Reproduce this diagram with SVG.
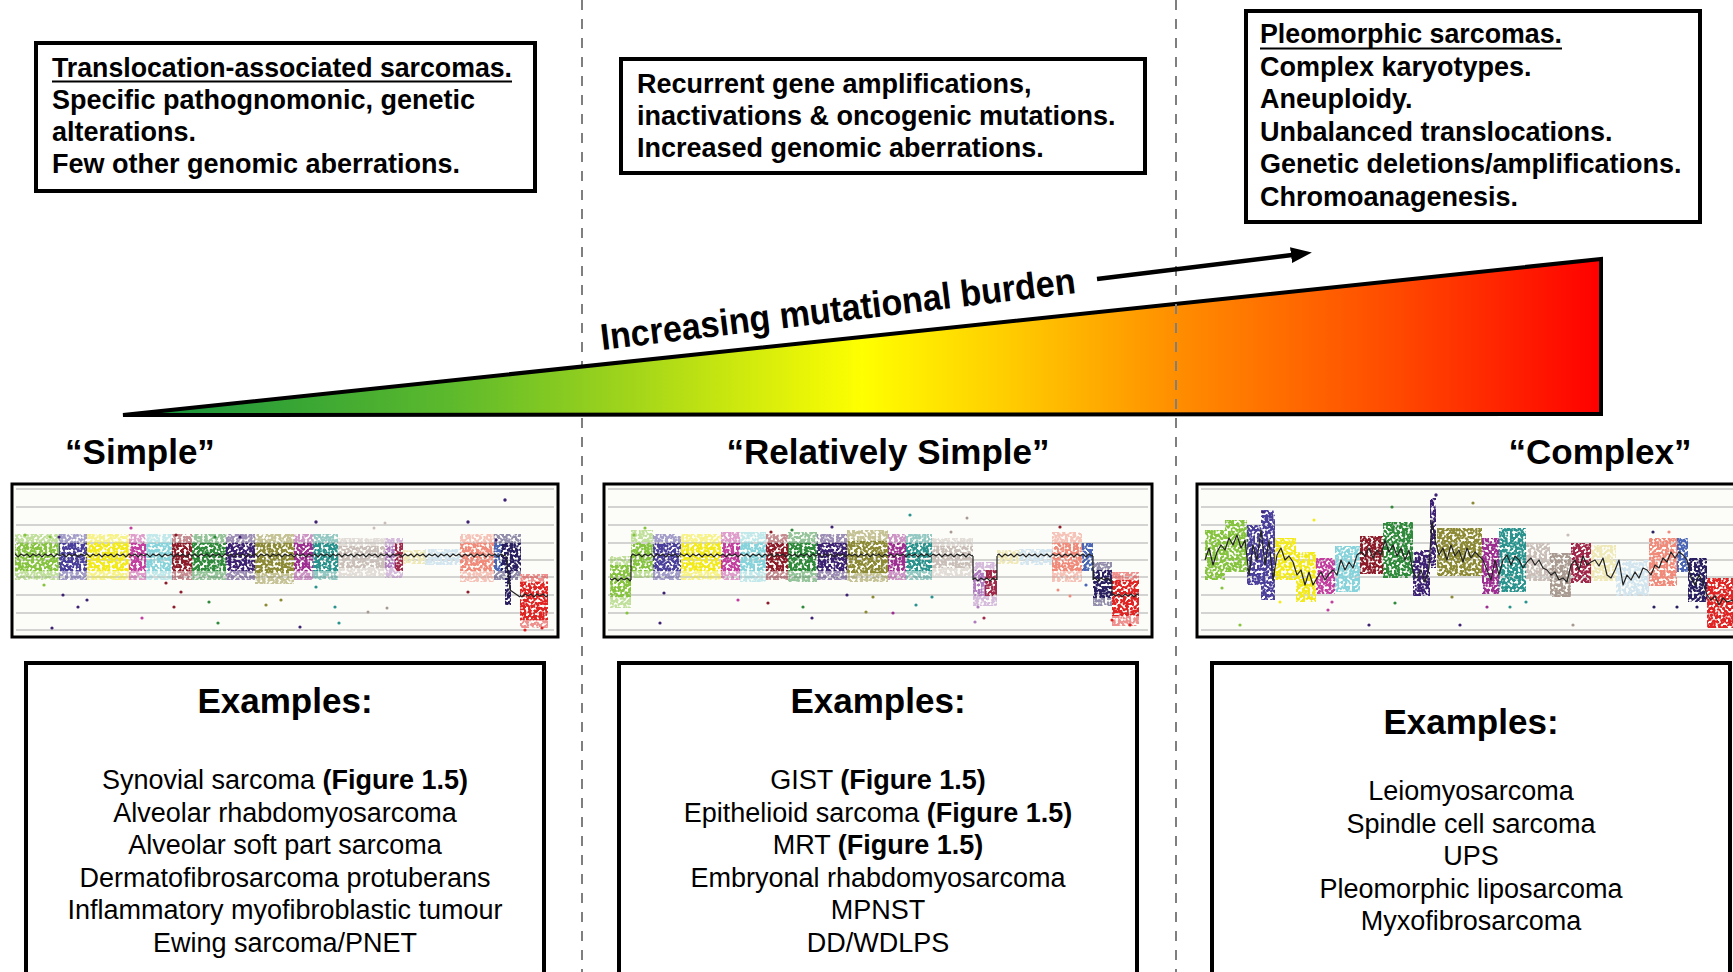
<svg xmlns="http://www.w3.org/2000/svg" width="1733" height="972" viewBox="0 0 1733 972">
<style>
.b27{font-family:"Liberation Sans",Arial,sans-serif;font-weight:bold;font-size:27px;fill:#000}
.r27{font-family:"Liberation Sans",Arial,sans-serif;font-size:27px;fill:#000;text-anchor:middle}
.b35{font-family:"Liberation Sans",Arial,sans-serif;font-weight:bold;font-size:35px;fill:#000;text-anchor:middle}
.box{fill:#fff;stroke:#000;stroke-width:4}
.frame{fill:#fcfcf8;stroke:#000;stroke-width:3}
.grid{stroke:#c6c6c6;stroke-width:1.5}
.dash{stroke:#7f7f7f;stroke-width:2;stroke-dasharray:10 9}
.ul{stroke:#000;stroke-width:2}
.med{fill:none;stroke:#222;stroke-width:1.2;stroke-linejoin:round}
</style>
<defs>
<linearGradient id="burden" gradientUnits="userSpaceOnUse" x1="123" y1="0" x2="1601" y2="0">
<stop offset="0" stop-color="#0f8f3e"/>
<stop offset="0.22" stop-color="#5cb92c"/>
<stop offset="0.34" stop-color="#9fd41b"/>
<stop offset="0.5" stop-color="#ffff00"/>
<stop offset="0.6" stop-color="#ffcc00"/>
<stop offset="0.72" stop-color="#ff8a00"/>
<stop offset="0.86" stop-color="#ff4a00"/>
<stop offset="1" stop-color="#ff0000"/>
</linearGradient>
<filter id="speck" color-interpolation-filters="sRGB">
<feTurbulence type="fractalNoise" baseFrequency="0.38" numOctaves="1" seed="4" result="n"/>
<feColorMatrix in="n" type="matrix" values="0 0 0 0 0  0 0 0 0 0  0 0 0 0 0  8 0 0 0 -3.1" result="m"/>
<feComposite in="SourceGraphic" in2="m" operator="in"/>
</filter>
<pattern id="wave" patternUnits="userSpaceOnUse" width="12" height="8">
<path d="M0,4 l3,-2 l3,3 l3,-3 l3,2" fill="none" stroke="#222" stroke-width="1.2"/>
</pattern>
<marker id="ah" markerUnits="userSpaceOnUse" markerWidth="21" markerHeight="16" refX="1" refY="8" orient="auto">
<path d="M0,0 L21,8 L0,16 z" fill="#000"/>
</marker>
</defs>

<rect width="1733" height="972" fill="#fff"/>

<line id="divider-1" class="dash" x1="582" y1="0" x2="582" y2="972"/>

<g id="burden-gradient">
<polygon points="123,415 1601,259 1601,414" fill="url(#burden)" stroke="#000" stroke-width="4" stroke-linejoin="miter"/>
<text class="b27" x="602" y="350" textLength="478" lengthAdjust="spacingAndGlyphs" transform="rotate(-6.85 602 350)" style="font-size:37px">Increasing mutational burden</text>
</g>

<line id="divider-2" class="dash" x1="1176" y1="0" x2="1176" y2="972"/>

<g id="connectors">
<line x1="1097" y1="279" x2="1292" y2="255" stroke="#000" stroke-width="4.5" marker-end="url(#ah)"/>
</g>

<g id="node-translocation">
<rect class="box" x="36" y="43" width="499" height="148"/>
<text class="b27" x="52" y="77" textLength="460" lengthAdjust="spacingAndGlyphs">Translocation-associated sarcomas.</text>
<line class="ul" x1="52" y1="81.5" x2="512" y2="81.5"/>
<text class="b27" x="52" y="109">Specific pathognomonic, genetic</text>
<text class="b27" x="52" y="141">alterations.</text>
<text class="b27" x="52" y="173">Few other genomic aberrations.</text>
</g>

<g id="node-recurrent">
<rect class="box" x="621" y="59" width="524" height="114"/>
<text class="b27" x="637" y="93">Recurrent gene amplifications,</text>
<text class="b27" x="637" y="125">inactivations &amp; oncogenic mutations.</text>
<text class="b27" x="637" y="157">Increased genomic aberrations.</text>
</g>

<g id="node-pleomorphic">
<rect class="box" x="1246" y="11" width="454" height="211"/>
<text class="b27" x="1260" y="43" textLength="302" lengthAdjust="spacingAndGlyphs">Pleomorphic sarcomas.</text>
<line class="ul" x1="1260" y1="48.5" x2="1562" y2="48.5"/>
<text class="b27" x="1260" y="75.5">Complex karyotypes.</text>
<text class="b27" x="1260" y="108">Aneuploidy.</text>
<text class="b27" x="1260" y="140.5">Unbalanced translocations.</text>
<text class="b27" x="1260" y="173">Genetic deletions/amplifications.</text>
<text class="b27" x="1260" y="205.5">Chromoanagenesis.</text>
</g>

<g id="label-simple"><text class="b35" x="140" y="464">“Simple”</text></g>
<g id="label-relatively-simple"><text class="b35" x="888" y="464">“Relatively Simple”</text></g>
<g id="label-complex"><text class="b35" x="1600" y="464">“Complex”</text></g>

<!-- Chart 1 -->
<g id="chart-simple">
<rect class="frame" x="12" y="484" width="546" height="153"/>
<g class="grid">
<line x1="16" y1="489" x2="554" y2="489"/><line x1="16" y1="507" x2="554" y2="507"/><line x1="16" y1="525" x2="554" y2="525"/><line x1="16" y1="543" x2="554" y2="543"/><line x1="16" y1="560" x2="554" y2="560"/><line x1="16" y1="577" x2="554" y2="577"/><line x1="16" y1="595" x2="554" y2="595"/><line x1="16" y1="613" x2="554" y2="613"/><line x1="16" y1="630" x2="554" y2="630"/>
</g>
<g filter="url(#speck)">
<g opacity="0.5">
<rect x="15" y="534" width="44" height="46" fill="#86c440"/><rect x="59" y="534" width="28" height="46" fill="#4a3f9a"/><rect x="87" y="534" width="42" height="46" fill="#f2ea1a"/><rect x="129" y="534" width="17" height="46" fill="#c23fa0"/><rect x="146" y="534" width="26" height="46" fill="#86d3dc"/><rect x="172" y="534" width="20" height="46" fill="#8c1c2a"/><rect x="192" y="534" width="34" height="46" fill="#2f8a3c"/><rect x="226" y="534" width="29" height="46" fill="#3d2173"/><rect x="255" y="534" width="39" height="50" fill="#8d8a35"/><rect x="294" y="534" width="19" height="46" fill="#9e2f92"/><rect x="313" y="534" width="25" height="46" fill="#2a938e"/><rect x="338" y="538" width="47" height="38" fill="#c9beb8"/><rect x="385" y="538" width="18" height="40" fill="#b07cc0"/><rect x="460" y="534" width="34" height="48" fill="#f08a7a"/><rect x="494" y="534" width="27" height="46" fill="#2a1f60"/><rect x="520" y="574" width="28" height="54" fill="#e02424"/>
</g>
<rect x="15" y="543" width="44" height="28" fill="#86c440"/><rect x="59" y="543" width="28" height="28" fill="#4a3f9a"/><rect x="87" y="543" width="42" height="28" fill="#f2ea1a"/><rect x="129" y="543" width="17" height="28" fill="#c23fa0"/><rect x="146" y="543" width="26" height="28" fill="#86d3dc"/><rect x="172" y="543" width="20" height="28" fill="#8c1c2a"/><rect x="192" y="543" width="34" height="28" fill="#2f8a3c"/><rect x="226" y="543" width="29" height="28" fill="#3d2173"/><rect x="255" y="543" width="39" height="30" fill="#8d8a35"/><rect x="294" y="543" width="19" height="28" fill="#9e2f92"/><rect x="313" y="543" width="25" height="28" fill="#2a938e"/><rect x="338" y="546" width="47" height="22" fill="#c9beb8"/><rect x="385" y="546" width="10" height="22" fill="#b07cc0"/><rect x="395" y="543" width="8" height="28" fill="#a0284a"/><rect x="403" y="550" width="22" height="14" fill="#efe9b8"/><rect x="425" y="549" width="35" height="16" fill="#d3e6ef"/><rect x="460" y="543" width="34" height="28" fill="#f08a7a"/><rect x="494" y="543" width="7" height="28" fill="#4a66b5"/><rect x="501" y="543" width="20" height="28" fill="#2a1f60"/><rect x="505" y="560" width="6" height="45" fill="#2a1f60"/><rect x="520" y="582" width="28" height="38" fill="#e02424"/>
</g>
<rect x="15" y="552" width="491" height="8" fill="url(#wave)"/>
<rect x="520" y="592" width="28" height="8" fill="url(#wave)"/>
<path class="med" d="M506,556 L510,590 L520,597"/>
<g fill="#3d2173">
<circle cx="505" cy="500" r="1.7"/><circle cx="316" cy="522" r="1.7"/><circle cx="468" cy="522" r="1.7"/><circle cx="385" cy="523" r="1.5" fill="#c9beb8"/><circle cx="25" cy="535" r="1.6" fill="#86c440"/><circle cx="50" cy="537" r="1.6" fill="#86c440"/><circle cx="59" cy="537" r="1.6"/><circle cx="176" cy="535" r="1.6" fill="#8c1c2a"/><circle cx="215" cy="537" r="1.6" fill="#2f8a3c"/><circle cx="240" cy="537" r="1.6"/><circle cx="131" cy="528" r="1.6" fill="#c23fa0"/><circle cx="374" cy="528" r="1.5" fill="#c9beb8"/><circle cx="496" cy="540" r="1.6"/><circle cx="44" cy="585" r="1.6" fill="#86c440"/><circle cx="63" cy="595" r="1.6"/><circle cx="78" cy="607" r="1.6"/><circle cx="87" cy="600" r="1.6"/><circle cx="142" cy="618" r="1.6" fill="#c23fa0"/><circle cx="174" cy="607" r="1.6" fill="#8c1c2a"/><circle cx="181" cy="592" r="1.6" fill="#8c1c2a"/><circle cx="209" cy="602" r="1.6" fill="#2f8a3c"/><circle cx="218" cy="623" r="1.6" fill="#2f8a3c"/><circle cx="266" cy="605" r="1.6" fill="#8d8a35"/><circle cx="281" cy="600" r="1.6" fill="#8d8a35"/><circle cx="300" cy="627" r="1.6"/><circle cx="335" cy="607" r="1.6" fill="#2a938e"/><circle cx="339" cy="623" r="1.6" fill="#2a938e"/><circle cx="368" cy="612" r="1.5" fill="#a89a90"/><circle cx="387" cy="608" r="1.5" fill="#a89a90"/><circle cx="468" cy="592" r="1.6" fill="#8c1c2a"/><circle cx="52" cy="628" r="1.6"/><circle cx="166" cy="583" r="1.6" fill="#8c1c2a"/><circle cx="316" cy="587" r="1.6" fill="#2a938e"/><circle cx="525" cy="630" r="1.6" fill="#e02424"/><circle cx="542" cy="628" r="1.6" fill="#e02424"/>
</g>
</g>

<!-- Chart 2 -->
<g id="chart-relatively-simple">
<rect class="frame" x="604" y="484" width="548" height="153"/>
<g class="grid">
<line x1="608" y1="489" x2="1148" y2="489"/><line x1="608" y1="507" x2="1148" y2="507"/><line x1="608" y1="525" x2="1148" y2="525"/><line x1="608" y1="543" x2="1148" y2="543"/><line x1="608" y1="560" x2="1148" y2="560"/><line x1="608" y1="577" x2="1148" y2="577"/><line x1="608" y1="595" x2="1148" y2="595"/><line x1="608" y1="613" x2="1148" y2="613"/><line x1="608" y1="630" x2="1148" y2="630"/>
</g>
<g filter="url(#speck)">
<g opacity="0.5">
<rect x="610" y="556" width="21" height="52" fill="#86c440"/><rect x="631" y="530" width="22" height="48" fill="#86c440"/><rect x="653" y="534" width="28" height="46" fill="#4a3f9a"/><rect x="681" y="534" width="40" height="46" fill="#f2ea1a"/><rect x="721" y="532" width="19" height="48" fill="#c23fa0"/><rect x="740" y="532" width="26" height="50" fill="#86d3dc"/><rect x="766" y="534" width="22" height="46" fill="#8c1c2a"/><rect x="788" y="532" width="29" height="50" fill="#2f8a3c"/><rect x="817" y="534" width="30" height="46" fill="#3d2173"/><rect x="847" y="530" width="41" height="52" fill="#8d8a35"/><rect x="888" y="534" width="18" height="46" fill="#9e2f92"/><rect x="906" y="534" width="26" height="46" fill="#2a938e"/><rect x="932" y="538" width="41" height="38" fill="#c9beb8"/><rect x="973" y="562" width="24" height="44" fill="#b07cc0"/><rect x="1052" y="532" width="30" height="50" fill="#f08a7a"/><rect x="1093" y="562" width="19" height="44" fill="#2a1f60"/><rect x="1112" y="572" width="27" height="54" fill="#e02424"/>
</g>
<rect x="610" y="565" width="21" height="32" fill="#86c440"/><rect x="631" y="543" width="22" height="28" fill="#86c440"/><rect x="653" y="543" width="28" height="28" fill="#4a3f9a"/><rect x="681" y="543" width="40" height="28" fill="#f2ea1a"/><rect x="721" y="543" width="19" height="28" fill="#c23fa0"/><rect x="740" y="543" width="26" height="28" fill="#86d3dc"/><rect x="766" y="543" width="22" height="28" fill="#8c1c2a"/><rect x="788" y="543" width="29" height="28" fill="#2f8a3c"/><rect x="817" y="543" width="30" height="28" fill="#3d2173"/><rect x="847" y="541" width="41" height="32" fill="#8d8a35"/><rect x="888" y="543" width="18" height="28" fill="#9e2f92"/><rect x="906" y="543" width="26" height="28" fill="#2a938e"/><rect x="932" y="546" width="41" height="22" fill="#c9beb8"/><rect x="973" y="570" width="12" height="26" fill="#b07cc0"/><rect x="985" y="570" width="12" height="26" fill="#a0284a"/><rect x="997" y="550" width="22" height="14" fill="#efe9b8"/><rect x="1019" y="549" width="33" height="16" fill="#d3e6ef"/><rect x="1052" y="543" width="30" height="28" fill="#f08a7a"/><rect x="1082" y="543" width="11" height="28" fill="#4a66b5"/><rect x="1093" y="570" width="19" height="28" fill="#2a1f60"/><rect x="1112" y="580" width="27" height="36" fill="#e02424"/>
</g>
<rect x="610" y="576" width="21" height="8" fill="url(#wave)"/>
<rect x="631" y="552" width="342" height="8" fill="url(#wave)"/>
<rect x="973" y="576" width="24" height="8" fill="url(#wave)"/>
<rect x="997" y="552" width="96" height="8" fill="url(#wave)"/>
<rect x="1093" y="576" width="19" height="8" fill="url(#wave)"/>
<rect x="1112" y="592" width="27" height="8" fill="url(#wave)"/>
<path class="med" d="M631,580 L631,556 M973,556 L973,580 M997,580 L997,556 M1093,556 L1093,580 M1112,580 L1112,596"/>
<g fill="#3d2173">
<circle cx="910" cy="515" r="1.6" fill="#2a938e"/><circle cx="967" cy="518" r="1.5" fill="#a89a90"/><circle cx="951" cy="532" r="1.5" fill="#a89a90"/><circle cx="634" cy="535" r="1.6" fill="#86c440"/><circle cx="645" cy="528" r="1.6" fill="#86c440"/><circle cx="832" cy="527" r="1.6"/><circle cx="792" cy="530" r="1.6" fill="#2f8a3c"/><circle cx="771" cy="532" r="1.6" fill="#8c1c2a"/><circle cx="660" cy="623" r="1.6"/><circle cx="627" cy="613" r="1.6" fill="#86c440"/><circle cx="664" cy="593" r="1.6"/><circle cx="738" cy="600" r="1.6" fill="#c23fa0"/><circle cx="768" cy="603" r="1.6" fill="#8c1c2a"/><circle cx="803" cy="607" r="1.6" fill="#2f8a3c"/><circle cx="812" cy="618" r="1.6"/><circle cx="847" cy="595" r="1.6"/><circle cx="866" cy="612" r="1.6" fill="#8d8a35"/><circle cx="873" cy="597" r="1.6" fill="#8d8a35"/><circle cx="893" cy="613" r="1.6" fill="#9e2f92"/><circle cx="916" cy="605" r="1.6" fill="#2a938e"/><circle cx="932" cy="597" r="1.6" fill="#2a938e"/><circle cx="975" cy="622" r="1.6" fill="#b07cc0"/><circle cx="984" cy="618" r="1.6" fill="#a0284a"/><circle cx="978" cy="607" r="1.6" fill="#b07cc0"/><circle cx="1060" cy="527" r="1.6" fill="#8c1c2a"/><circle cx="1086" cy="585" r="1.6" fill="#4a66b5"/><circle cx="1112" cy="620" r="1.6" fill="#e02424"/><circle cx="1130" cy="625" r="1.6" fill="#e02424"/><circle cx="1058" cy="590" r="1.5" fill="#f08a7a"/><circle cx="1070" cy="596" r="1.5" fill="#f08a7a"/>
</g>
</g>

<!-- Chart 3 -->
<g id="chart-complex">
<rect class="frame" x="1197" y="484" width="560" height="153"/>
<g class="grid">
<line x1="1201" y1="489" x2="1733" y2="489"/><line x1="1201" y1="507" x2="1733" y2="507"/><line x1="1201" y1="525" x2="1733" y2="525"/><line x1="1201" y1="543" x2="1733" y2="543"/><line x1="1201" y1="560" x2="1733" y2="560"/><line x1="1201" y1="577" x2="1733" y2="577"/><line x1="1201" y1="595" x2="1733" y2="595"/><line x1="1201" y1="613" x2="1733" y2="613"/><line x1="1201" y1="630" x2="1733" y2="630"/>
</g>
<g filter="url(#speck)">
<rect x="1205" y="530" width="20" height="50" fill="#86c440"/><rect x="1225" y="520" width="22" height="52" fill="#86c440"/>
<rect x="1247" y="525" width="14" height="60" fill="#4a3f9a"/><rect x="1261" y="510" width="14" height="90" fill="#4a3f9a"/>
<rect x="1275" y="538" width="21" height="42" fill="#f2ea1a"/><rect x="1296" y="552" width="20" height="50" fill="#f2ea1a"/>
<rect x="1316" y="558" width="19" height="36" fill="#c23fa0"/>
<rect x="1335" y="546" width="25" height="46" fill="#86d3dc"/>
<rect x="1360" y="536" width="23" height="38" fill="#8c1c2a"/>
<rect x="1383" y="522" width="30" height="56" fill="#2f8a3c"/>
<rect x="1413" y="550" width="17" height="46" fill="#3d2173"/>
<rect x="1430" y="498" width="6" height="70" fill="#3d2173"/>
<rect x="1437" y="528" width="45" height="48" fill="#8d8a35"/>
<rect x="1482" y="538" width="17" height="56" fill="#9e2f92"/>
<rect x="1499" y="528" width="27" height="64" fill="#2a938e"/>
<rect x="1526" y="543" width="24" height="38" fill="#c9beb8"/><rect x="1550" y="553" width="21" height="44" fill="#a89a90"/>
<rect x="1571" y="543" width="20" height="40" fill="#a0284a"/>
<rect x="1591" y="545" width="25" height="36" fill="#efe9b8"/>
<rect x="1616" y="560" width="33" height="36" fill="#d3e6ef"/>
<rect x="1649" y="538" width="28" height="48" fill="#f08a7a"/>
<rect x="1677" y="538" width="11" height="34" fill="#4a66b5"/>
<rect x="1688" y="558" width="19" height="44" fill="#2a1f60"/>
<rect x="1707" y="578" width="26" height="50" fill="#e02424"/>
</g>
<path class="med" d="M1205,560 L1209,548 1213,565 1217,552 1221,545 1225,550 1229,538 1233,545 1237,535 1241,548 1245,540 1249,575 1253,545 1257,560 1261,530 1265,565 1269,540 1273,580 1277,555 1281,548 1285,560 1289,556 1293,562 1297,575 1301,570 1305,585 1309,572 1313,585 1317,578 1321,572 1325,580 1329,574 1333,570 1337,575 1341,560 1345,570 1349,562 1353,568 1357,555 1361,552 1365,556 1369,548 1373,558 1377,550 1381,555 1385,540 1389,552 1393,545 1397,556 1401,548 1405,560 1409,550 1413,572 1417,578 1421,570 1425,582 1429,568 1432,520 1435,540 1439,555 1443,548 1447,560 1451,545 1455,556 1459,550 1463,562 1467,548 1471,558 1475,552 1479,556 1483,560 1487,570 1491,580 1495,560 1499,575 1503,560 1507,555 1511,565 1515,556 1519,560 1523,568 1527,562 1531,558 1535,565 1539,560 1543,568 1547,570 1551,575 1555,572 1559,580 1563,578 1567,582 1571,565 1575,560 1579,570 1583,556 1587,565 1591,562 1595,560 1599,566 1603,558 1607,575 1611,578 1615,570 1619,560 1623,585 1627,575 1631,580 1635,572 1639,578 1643,568 1647,570 1651,575 1655,565 1659,568 1663,558 1667,562 1671,552 1675,558 1679,552 1683,555 1687,560 1691,578 1695,585 1699,575 1703,582 1707,595 1711,600 1715,596 1719,605 1723,598 1727,602 1733,600"/>
<g fill="#3d2173">
<circle cx="1436" cy="495" r="1.7"/><circle cx="1473" cy="503" r="1.6" fill="#8d8a35"/><circle cx="1392" cy="507" r="1.6" fill="#2f8a3c"/><circle cx="1263" cy="512" r="1.6"/><circle cx="1314" cy="520" r="1.5" fill="#f2ea1a"/><circle cx="1240" cy="625" r="1.6" fill="#86c440"/><circle cx="1369" cy="625" r="1.6"/><circle cx="1460" cy="625" r="1.6"/><circle cx="1573" cy="625" r="1.6" fill="#a89a90"/><circle cx="1328" cy="610" r="1.6" fill="#c23fa0"/><circle cx="1332" cy="602" r="1.6" fill="#c23fa0"/><circle cx="1395" cy="603" r="1.6" fill="#2f8a3c"/><circle cx="1452" cy="597" r="1.6" fill="#8d8a35"/><circle cx="1487" cy="607" r="1.6" fill="#9e2f92"/><circle cx="1510" cy="607" r="1.6" fill="#2a938e"/><circle cx="1526" cy="602" r="1.6" fill="#2a938e"/><circle cx="1654" cy="607" r="1.6" fill="#2a1f60"/><circle cx="1677" cy="607" r="1.6" fill="#2a1f60"/><circle cx="1697" cy="607" r="1.6" fill="#2a1f60"/><circle cx="1653" cy="532" r="1.6" fill="#2a1f60"/><circle cx="1669" cy="532" r="1.6" fill="#f08a7a"/><circle cx="1568" cy="535" r="1.6" fill="#c9beb8"/><circle cx="1519" cy="533" r="1.6" fill="#2a938e"/><circle cx="1280" cy="602" r="1.5" fill="#f2ea1a"/><circle cx="1222" cy="588" r="1.6" fill="#86c440"/>
</g>
</g>

<g id="node-examples-simple">
<rect class="box" x="26" y="663" width="518" height="340"/>
<text class="b35" x="285" y="713">Examples:</text>
<text class="r27" x="285" y="789">Synovial sarcoma <tspan font-weight="bold">(Figure 1.5)</tspan></text>
<text class="r27" x="285" y="821.5">Alveolar rhabdomyosarcoma</text>
<text class="r27" x="285" y="854">Alveolar soft part sarcoma</text>
<text class="r27" x="285" y="886.5">Dermatofibrosarcoma protuberans</text>
<text class="r27" x="285" y="919">Inflammatory myofibroblastic tumour</text>
<text class="r27" x="285" y="951.5">Ewing sarcoma/PNET</text>
</g>

<g id="node-examples-relatively-simple">
<rect class="box" x="619" y="663" width="518" height="340"/>
<text class="b35" x="878" y="713">Examples:</text>
<text class="r27" x="878" y="789">GIST <tspan font-weight="bold">(Figure 1.5)</tspan></text>
<text class="r27" x="878" y="821.5">Epithelioid sarcoma <tspan font-weight="bold">(Figure 1.5)</tspan></text>
<text class="r27" x="878" y="854">MRT <tspan font-weight="bold">(Figure 1.5)</tspan></text>
<text class="r27" x="878" y="886.5">Embryonal rhabdomyosarcoma</text>
<text class="r27" x="878" y="919">MPNST</text>
<text class="r27" x="878" y="951.5">DD/WDLPS</text>
</g>

<g id="node-examples-complex">
<rect class="box" x="1212" y="663" width="518" height="340"/>
<text class="b35" x="1471" y="734">Examples:</text>
<text class="r27" x="1471" y="800">Leiomyosarcoma</text>
<text class="r27" x="1471" y="832.5">Spindle cell sarcoma</text>
<text class="r27" x="1471" y="865">UPS</text>
<text class="r27" x="1471" y="897.5">Pleomorphic liposarcoma</text>
<text class="r27" x="1471" y="930">Myxofibrosarcoma</text>
</g>
</svg>
